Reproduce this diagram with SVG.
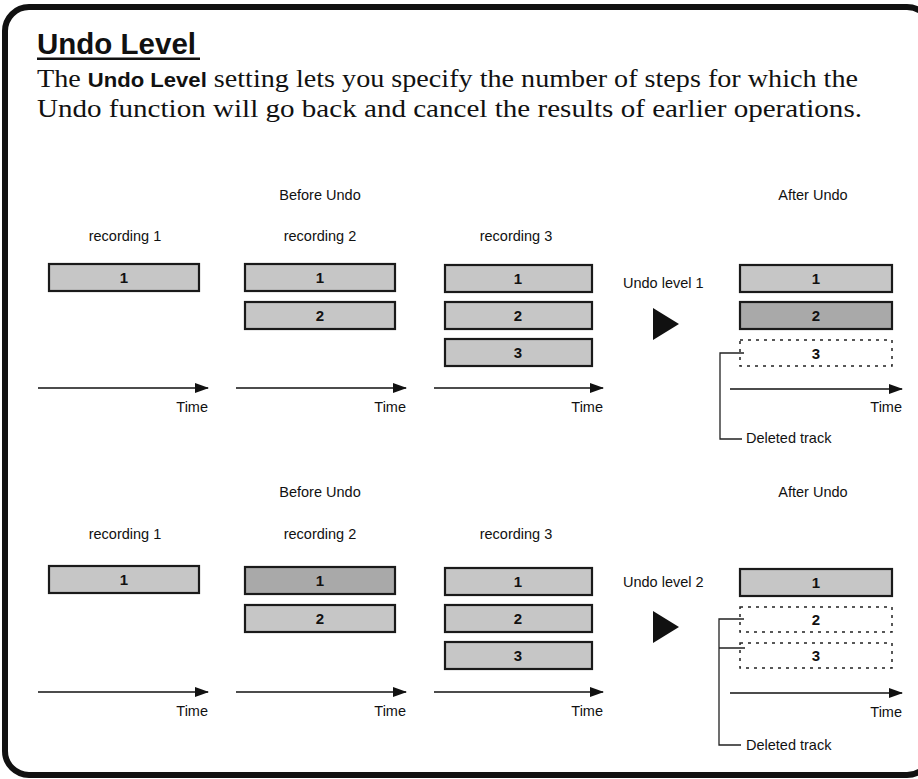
<svg xmlns="http://www.w3.org/2000/svg" width="918" height="779" viewBox="0 0 918 779">
<defs>
<style>
.sans{font-family:"Liberation Sans",Arial,sans-serif;fill:#111}
.body{font-family:"Liberation Serif","Times New Roman",serif;font-size:25.5px;fill:#111}
.lbl{font-family:"Liberation Sans",Arial,sans-serif;font-size:14.5px;fill:#111}
.num{font-family:"Liberation Sans",Arial,sans-serif;font-size:15px;font-weight:bold;fill:#111;text-anchor:middle}
.trk{fill:#c6c6c6;stroke:#1a1a1a;stroke-width:2.2}
.trkd{fill:#a9a9a9;stroke:#1a1a1a;stroke-width:2.2}
.del{fill:none;stroke:#222;stroke-width:1.5;stroke-dasharray:3 5}
.axis{stroke:#111;stroke-width:1.5;fill:none}
.brk{stroke:#222;stroke-width:1.3;fill:none}
</style>
<marker id="ah" viewBox="0 0 14 10" refX="13" refY="5" markerWidth="14" markerHeight="10" markerUnits="userSpaceOnUse" orient="auto">
<path d="M0,0 L14,5 L0,10 Z" fill="#111"/>
</marker>
</defs>
<rect width="918" height="779" fill="#fff"/>
<rect x="5" y="7" width="926" height="768" rx="24" fill="none" stroke="#111" stroke-width="6"/>

<g id="title">
<text class="sans" x="37" y="54" font-size="29.5" font-weight="bold">Undo Level</text>
<rect x="37" y="57.5" width="163" height="2.5" fill="#111"/>
</g>
<g id="intro">
<text class="body" x="37" y="87" textLength="821" lengthAdjust="spacingAndGlyphs">The <tspan font-family="'Liberation Sans',Arial,sans-serif" font-weight="bold" font-size="20">Undo Level</tspan> setting lets you specify the number of steps for which the</text>
<text class="body" x="37" y="117" textLength="825" lengthAdjust="spacingAndGlyphs">Undo function will go back and cancel the results of earlier operations.</text>
</g>

<!-- Section 1 -->
<g id="s1-labels">
<text class="lbl" x="320" y="200" text-anchor="middle">Before Undo</text>
<text class="lbl" x="813" y="200" text-anchor="middle">After Undo</text>
<text class="lbl" x="125" y="241" text-anchor="middle">recording 1</text>
<text class="lbl" x="320" y="241" text-anchor="middle">recording 2</text>
<text class="lbl" x="516" y="241" text-anchor="middle">recording 3</text>
<text class="lbl" x="623" y="288">Undo level 1</text>
</g>
<g id="s1-rec1">
<rect class="trk" x="49" y="264" width="150" height="27"/><text class="num" x="124" y="283">1</text>
</g>
<g id="s1-rec2">
<rect class="trk" x="245" y="264" width="150" height="27"/><text class="num" x="320" y="283">1</text>
<rect class="trk" x="245" y="302" width="150" height="27"/><text class="num" x="320" y="321">2</text>
</g>
<g id="s1-rec3">
<rect class="trk" x="445" y="265" width="147" height="27"/><text class="num" x="518" y="284">1</text>
<rect class="trk" x="445" y="302" width="147" height="27"/><text class="num" x="518" y="321">2</text>
<rect class="trk" x="445" y="339" width="147" height="27"/><text class="num" x="518" y="358">3</text>
</g>
<g id="s1-after">
<rect class="trk" x="740" y="265" width="152" height="27"/><text class="num" x="816" y="284">1</text>
<rect class="trkd" x="740" y="302" width="152" height="27"/><text class="num" x="816" y="321">2</text>
<rect class="del" x="740" y="340" width="152" height="26"/><text class="num" x="816" y="359" font-weight="normal">3</text>
<text class="lbl" x="746" y="443">Deleted track</text>
</g>
<polygon id="s1-go" points="653,308 653,340 679,324" fill="#111"/>

<!-- Section 2 -->
<g id="s2-labels">
<text class="lbl" x="320" y="497" text-anchor="middle">Before Undo</text>
<text class="lbl" x="813" y="497" text-anchor="middle">After Undo</text>
<text class="lbl" x="125" y="539" text-anchor="middle">recording 1</text>
<text class="lbl" x="320" y="539" text-anchor="middle">recording 2</text>
<text class="lbl" x="516" y="539" text-anchor="middle">recording 3</text>
<text class="lbl" x="623" y="587">Undo level 2</text>
</g>
<g id="s2-rec1">
<rect class="trk" x="49" y="566" width="150" height="27"/><text class="num" x="124" y="585">1</text>
</g>
<g id="s2-rec2">
<rect class="trkd" x="245" y="567" width="150" height="27"/><text class="num" x="320" y="586">1</text>
<rect class="trk" x="245" y="605" width="150" height="27"/><text class="num" x="320" y="624">2</text>
</g>
<g id="s2-rec3">
<rect class="trk" x="445" y="568" width="147" height="27"/><text class="num" x="518" y="587">1</text>
<rect class="trk" x="445" y="605" width="147" height="27"/><text class="num" x="518" y="624">2</text>
<rect class="trk" x="445" y="642" width="147" height="27"/><text class="num" x="518" y="661">3</text>
</g>
<g id="s2-after">
<rect class="trk" x="740" y="569" width="152" height="27"/><text class="num" x="816" y="588">1</text>
<rect class="del" x="740" y="607" width="152" height="25"/><text class="num" x="816" y="625" font-weight="normal">2</text>
<rect class="del" x="740" y="643" width="152" height="25"/><text class="num" x="816" y="661" font-weight="normal">3</text>
<text class="lbl" x="746" y="750">Deleted track</text>
</g>
<polygon id="s2-go" points="653,611 653,643 679,627" fill="#111"/>

<g id="connectors">
<line class="axis" x1="38" y1="388" x2="208" y2="388" marker-end="url(#ah)"/>
<line class="axis" x1="236" y1="388" x2="406" y2="388" marker-end="url(#ah)"/>
<line class="axis" x1="434" y1="388" x2="603" y2="388" marker-end="url(#ah)"/>
<line class="axis" x1="730" y1="389" x2="902" y2="389" marker-end="url(#ah)"/>
<path class="brk" d="M744,353 H720 V439 H742"/>
<line class="axis" x1="38" y1="692" x2="208" y2="692" marker-end="url(#ah)"/>
<line class="axis" x1="236" y1="692" x2="406" y2="692" marker-end="url(#ah)"/>
<line class="axis" x1="434" y1="692" x2="603" y2="692" marker-end="url(#ah)"/>
<line class="axis" x1="730" y1="693" x2="902" y2="693" marker-end="url(#ah)"/>
<path class="brk" d="M744,619 H719 V745 H741 M719,648 H745"/>
</g>
<g id="time-labels">
<text class="lbl" x="208" y="412" text-anchor="end">Time</text>
<text class="lbl" x="406" y="412" text-anchor="end">Time</text>
<text class="lbl" x="603" y="412" text-anchor="end">Time</text>
<text class="lbl" x="902" y="412" text-anchor="end">Time</text>
<text class="lbl" x="208" y="716" text-anchor="end">Time</text>
<text class="lbl" x="406" y="716" text-anchor="end">Time</text>
<text class="lbl" x="603" y="716" text-anchor="end">Time</text>
<text class="lbl" x="902" y="717" text-anchor="end">Time</text>
</g>
</svg>
